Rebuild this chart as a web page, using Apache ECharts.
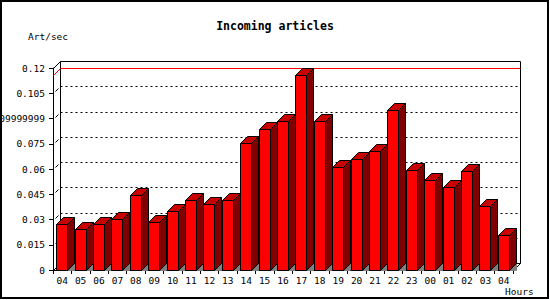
<!DOCTYPE html>
<html>
<head>
<meta charset="utf-8">
<script src="https://cdn.jsdelivr.net/npm/echarts@6/dist/echarts.min.js"></script>
<style>
html,body{margin:0;padding:0;background:#fff;}
#chart{width:550px;height:300px;}
</style>
</head>
<body>
<div id="chart"></div>
<script>
var categories = ['04','05','06','07','08','09','10','11','12','13','14','15','16','17','18','19','20','21','22','23','00','01','02','03','04'];
var artPerSec = [0.0271,0.0241,0.0275,0.0305,0.0444,0.0287,0.0353,0.0418,0.0394,0.0418,0.0752,0.0835,0.0883,0.1157,0.0883,0.0609,0.0662,0.0704,0.0948,0.0597,0.0537,0.0495,0.0591,0.0382,0.0210];
var yTickValues = [0,0.015,0.03,0.045,0.06,0.075,0.09,0.105,0.12];
var yTickLabels = ['0','0.015','0.03','0.045','0.06','0.075','0.09999999','0.105','0.12'];

var D = 7;
var FONT = 'DejaVu Sans Mono';
var maxVal = Math.max.apply(null, artPerSec);
var yMax = yTickValues[yTickValues.length - 1];

function px(v){ return Math.round(v) + 0.5; }

function renderGrid(params, api) {
  var cs = params.coordSys;
  var y = px(api.coord([0, api.value(1)])[1]);
  var xl = px(cs.x), xr = px(cs.x + cs.width);
  var idx = params.dataIndex;
  if (idx === 0 || idx === yTickValues.length - 1) return {type:'group', children:[]};
  var dash = {stroke:'#000', lineWidth:1, lineDash:[2,3], fill:null};
  return {type:'group', children:[
    {type:'line', shape:{x1:xl+D, y1:y-D, x2:xr+D, y2:y-D}, style:dash},
    {type:'line', shape:{x1:xl+2, y1:y-2, x2:xl+5, y2:y-5}, style:{stroke:'#000', lineWidth:1}}
  ]};
}

function renderFrame(params, api) {
  var cs = params.coordSys;
  var xl = px(cs.x), xr = px(cs.x + cs.width);
  var yb = px(api.coord([0, 0])[1]);
  var yt = px(api.coord([0, yMax])[1]);
  var ym = px(api.coord([0, maxVal])[1]);
  var s = {stroke:'#000', lineWidth:1, fill:null};
  var r = {stroke:'#ff0000', lineWidth:1, fill:null};
  return {type:'group', children:[
    {type:'line', shape:{x1:xl+D, y1:yt-D, x2:xl+D, y2:yb-D}, style:s},
    {type:'line', shape:{x1:xl+D, y1:yt-D, x2:xr+D, y2:yt-D}, style:s},
    {type:'line', shape:{x1:xr+D, y1:yt-D, x2:xr+D, y2:yb-D}, style:s},
    {type:'line', shape:{x1:xl, y1:yt, x2:xl+D, y2:yt-D}, style:s},
    {type:'line', shape:{x1:xl, y1:yb, x2:xl+D, y2:yb-D}, style:s},
    {type:'line', shape:{x1:xr, y1:yb, x2:xr+D, y2:yb-D}, style:s},
    {type:'line', shape:{x1:xl+D, y1:yb-D, x2:xr+D, y2:yb-D}, style:s},
    {type:'line', shape:{x1:xl, y1:ym, x2:xl+D, y2:ym-D}, style:r},
    {type:'line', shape:{x1:xl+D, y1:ym-D, x2:xr+D, y2:ym-D}, style:r}
  ]};
}

function renderBar(params, api) {
  var v = api.value(1);
  var base = api.coord([api.value(0), 0]);
  var top = api.coord([api.value(0), v]);
  var bw = Math.round(api.size([1, 0])[0] * 0.6);
  var x0 = px(base[0] - bw / 2 - 0.5);
  var x1 = x0 + bw;
  var yb = px(base[1]);
  var yt = px(top[1]);
  return {type:'group', children:[
    {type:'polygon', shape:{points:[[x1,yb],[x1+D,yb-D],[x1+D,yb]]}, style:{fill:'#808080', stroke:'#808080', lineWidth:1}},
    {type:'polygon', shape:{points:[[x1,yt],[x1+D,yt-D],[x1+D,yb-D],[x1,yb]]}, style:{fill:'#800000', stroke:'#000', lineWidth:1}},
    {type:'polygon', shape:{points:[[x0,yt],[x0+D,yt-D],[x1+D,yt-D],[x1,yt]]}, style:{fill:'#c80000', stroke:'#000', lineWidth:1}},
    {type:'rect', shape:{x:x0, y:yt, width:x1-x0, height:yb-yt}, style:{fill:'#ff0000', stroke:'#000', lineWidth:1}}
  ]};
}

var chart = echarts.init(document.getElementById('chart'), null, {renderer:'svg'});
chart.setOption({
  animation: false,
  backgroundColor: '#fff',
  title: {
    text: 'Incoming articles',
    left: 'center',
    top: 15,
    textStyle: {fontFamily: FONT, fontSize: 11.5, fontWeight: 'bold', color: '#000'}
  },
  graphic: [
    {type:'rect', silent:true, z:100, shape:{x:1, y:1, width:547, height:297}, style:{fill:null, stroke:'#000', lineWidth:2}},
    {type:'text', left:28, top:31, style:{text:'Art/sec', font:'9.5px "DejaVu Sans Mono"', fill:'#000'}},
    {type:'text', left:505, top:286, style:{text:'Hours', font:'9.5px "DejaVu Sans Mono"', fill:'#000'}}
  ],
  grid: {left: 53, right: 37, top: 68, bottom: 30, containLabel: false, outerBoundsMode: 'none'},
  xAxis: {
    type: 'category',
    data: categories,
    boundaryGap: true,
    axisLine: {show: true, lineStyle: {color: '#000', width: 1}},
    axisTick: {show: true, length: 4, lineStyle: {color: '#000'}},
    axisLabel: {fontFamily: FONT, fontSize: 9.5, color: '#000', margin: 5, interval: 0},
    splitLine: {show: false}
  },
  yAxis: {
    type: 'value',
    min: 0,
    max: yMax,
    interval: 0.015,
    axisLine: {show: true, lineStyle: {color: '#000', width: 1}},
    axisTick: {show: true, length: 4, lineStyle: {color: '#000'}},
    axisLabel: {
      fontFamily: FONT, fontSize: 9.5, color: '#000', margin: 8,
      formatter: function (val, i) { return yTickLabels[i]; }
    },
    splitLine: {show: false}
  },
  series: [
    {type:'custom', name:'grid', renderItem: renderGrid, data: yTickValues.map(function(v){return [0, v];}), z: 1, silent: true},
    {type:'custom', name:'frame', renderItem: renderFrame, data: [[0, 0]], z: 2, silent: true},
    {type:'custom', name:'Art/sec', renderItem: renderBar, data: artPerSec.map(function(v, i){return [i, v];}), z: 3}
  ]
});
</script>
</body>
</html>
